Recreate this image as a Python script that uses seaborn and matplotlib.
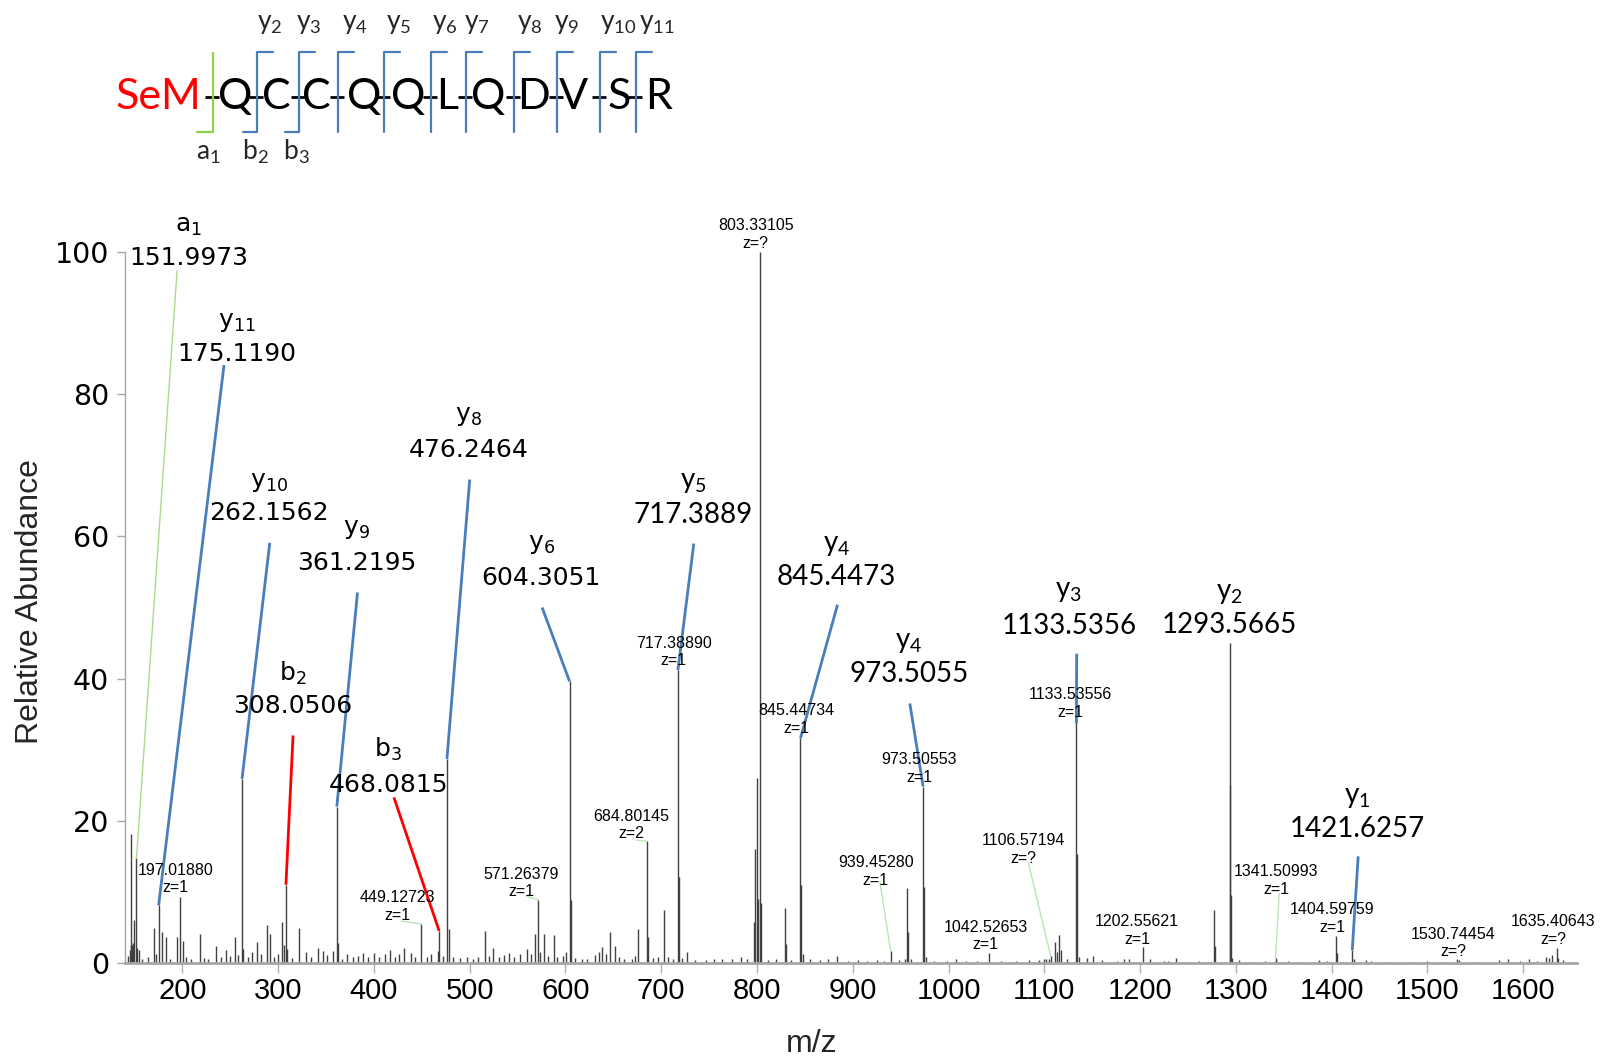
import numpy as np
import matplotlib.pyplot as plt
import seaborn as sns
from matplotlib import font_manager
from matplotlib.lines import Line2D

# ---- spectrum data (m/z, relative abundance) ----
# labelled / main peaks
major_mz = [146.6, 152.0, 175.1, 197.0, 262.2, 308.05, 361.2, 449.1, 468.1, 476.2,
            571.3, 604.3, 684.8, 717.4, 800.0, 803.3, 845.4, 939.5, 956.2, 973.5,
            1042.5, 1106.6, 1133.5, 1202.6, 1277.0, 1293.6, 1341.5, 1404.6, 1421.6,
            1530.7, 1635.4]
major_int = [18.2, 14.7, 8.1, 9.3, 25.9, 11.0, 22.0, 5.5, 4.5, 28.7,
             8.9, 39.6, 17.1, 41.2, 26.0, 100.0, 31.6, 1.7, 10.5, 24.8,
             1.4, 1.0, 43.5, 2.2, 7.5, 45.0, 0.7, 3.8, 1.8,
             0.5, 2.1]

# isotope / shoulder peaks next to the main ones
iso_mz = [147.6, 148.3, 149.7, 152.8, 263.3, 305.7, 362.4, 478.7, 605.5, 685.8,
          718.5, 796.7, 798.4, 801.2, 804.3, 829.8, 846.3, 957.2, 974.5, 1134.2,
          1278.4, 1294.0, 1294.6, 1406.0]
iso_int = [2.5, 2.8, 6.1, 2.1, 2.0, 2.6, 2.8, 4.8, 8.9, 3.7,
           12.1, 5.7, 16.1, 9.0, 8.4, 2.7, 11.0, 4.4, 10.7, 15.4,
           2.4, 25.0, 9.6, 1.4]

# small background peaks
minor_mz = [143.5, 144.9, 145.8, 154.4, 158.0, 163.5, 170.4, 172.0, 178.3, 183.2,
            187.0, 194.7, 200.2, 203.5, 209.0, 218.1, 222.0, 226.5, 235.2, 240.0,
            245.3, 250.0, 255.0, 258.5, 268.0, 272.5, 277.9, 282.0, 288.4, 291.1,
            296.0, 300.0, 304.3, 309.2, 314.0, 321.3, 328.6, 334.0, 341.1, 346.4,
            351.0, 357.5, 367.0, 371.8, 378.0, 383.0, 388.8, 394.0, 400.3, 405.0,
            411.0, 417.0, 421.5, 426.0, 431.6, 438.9, 443.0, 455.0, 460.0, 466.5,
            472.0, 483.0, 490.0, 497.0, 503.0, 509.0, 515.6, 520.0, 524.0, 531.0,
            536.0, 540.7, 546.0, 552.0, 559.8, 564.0, 567.8, 573.0, 577.5, 582.0,
            587.6, 591.0, 597.0, 600.5, 610.0, 617.0, 622.0, 630.7, 634.5, 638.3,
            642.0, 646.3, 651.6, 656.0, 661.0, 669.0, 673.0, 676.0, 691.0, 697.0,
            702.8, 707.0, 712.0, 722.0, 727.4, 735.0, 746.6, 755.0, 763.0, 774.0,
            782.8, 790.0, 812.0, 820.0, 829.0, 835.0, 848.0, 855.0, 866.0, 874.0,
            883.9, 895.0, 905.0, 915.0, 925.0, 933.0, 948.0, 955.0, 961.0, 976.0,
            985.0, 998.0, 1007.8, 1018.0, 1030.0, 1055.0, 1070.0, 1084.0, 1095.0, 1099.3,
            1102.0, 1104.5, 1111.1, 1113.0, 1115.5, 1117.0, 1124.0, 1136.0, 1144.3, 1151.3,
            1160.0, 1176.0, 1183.0, 1188.0, 1210.0, 1224.8, 1229.0, 1237.6, 1250.0, 1262.0,
            1296.4, 1303.0, 1315.0, 1330.0, 1342.0, 1355.0, 1370.0, 1387.0, 1395.0, 1423.0,
            1436.4, 1441.0, 1460.0, 1480.0, 1500.0, 1515.0, 1533.0, 1550.0, 1575.0, 1584.0,
            1597.0, 1606.6, 1615.0, 1624.0, 1627.5, 1630.0, 1636.3, 1641.5, 1650.0]
minor_int = [1.0, 1.8, 2.6, 1.8, 0.6, 0.8, 4.9, 1.2, 4.4, 3.6,
             0.5, 3.7, 3.1, 0.9, 0.5, 4.1, 0.7, 0.5, 2.4, 0.8,
             1.8, 1.0, 3.6, 1.1, 0.9, 1.5, 3.0, 1.2, 5.3, 4.1,
             0.8, 1.3, 5.7, 2.0, 0.7, 4.9, 1.6, 0.9, 2.1, 1.7,
             1.1, 1.7, 0.6, 1.2, 0.8, 1.0, 1.4, 0.9, 1.4, 0.8,
             1.2, 1.8, 0.9, 1.3, 2.1, 1.4, 0.8, 0.9, 1.2, 1.7,
             1.0, 0.9, 0.7, 0.9, 0.6, 0.8, 4.5, 1.0, 2.1, 0.8,
             1.1, 1.4, 0.9, 1.2, 1.9, 1.3, 4.1, 1.5, 4.1, 1.0,
             4.0, 0.8, 1.0, 1.5, 0.7, 0.5, 0.6, 1.1, 1.6, 2.3,
             1.2, 4.4, 2.4, 0.8, 0.6, 0.6, 1.0, 4.8, 0.7, 0.9,
             7.5, 0.8, 0.6, 0.7, 1.5, 0.4, 0.4, 0.5, 0.6, 0.5,
             0.9, 0.5, 0.4, 0.5, 7.7, 0.4, 1.2, 0.6, 0.4, 0.5,
             1.0, 0.3, 0.4, 0.3, 0.4, 0.3, 0.4, 0.6, 0.5, 0.8,
             0.3, 0.3, 0.5, 0.3, 0.3, 0.3, 0.3, 0.4, 0.4, 0.5,
             0.5, 0.6, 3.0, 1.5, 3.9, 1.8, 0.6, 0.8, 0.7, 1.0,
             0.4, 0.3, 0.6, 0.5, 0.5, 0.3, 0.3, 0.7, 0.2, 0.3,
             0.7, 0.4, 0.2, 0.3, 0.4, 0.3, 0.2, 0.4, 0.3, 0.6,
             0.4, 0.3, 0.2, 0.2, 0.3, 0.2, 0.4, 0.2, 0.4, 0.5,
             0.3, 0.5, 0.3, 0.8, 0.7, 1.1, 0.7, 0.4, 0.2]

# ---- fragment ion annotations ----
ion_names = ['a_1', 'y_{11}', 'y_{10}', 'y_9', 'b_2', 'y_8', 'b_3', 'y_6',
             'y_5', 'y_4', 'y_4', 'y_3', 'y_2', 'y_1']
ion_masses = ['151.9973', '175.1190', '262.1562', '361.2195', '308.0506', '476.2464',
              '468.0815', '604.3051', '717.3889', '845.4473', '973.5055', '1133.5356',
              '1293.5665', '1421.6257']
ion_peaks = [152.0, 175.1, 262.2, 361.2, 308.05, 476.2, 468.1, 604.3,
             717.4, 845.4, 973.5, 1133.5, 1293.6, 1421.6]

# small peak labels
small_mass = ['197.01880', '449.12723', '571.26379', '684.80145', '717.38890', '803.33105',
              '845.44734', '939.45280', '973.50553', '1042.52653', '1106.57194',
              '1133.53556', '1202.55621', '1341.50993', '1404.59759', '1530.74454',
              '1635.40643']
small_charge = ['z=1', 'z=1', 'z=1', 'z=2', 'z=1', 'z=?', 'z=1', 'z=1', 'z=1', 'z=1',
                'z=?', 'z=1', 'z=1', 'z=1', 'z=1', 'z=?', 'z=?']

# peptide sequence
residues = ['SeM', 'Q', 'C', 'C', 'Q', 'Q', 'L', 'Q', 'D', 'V', 'S', 'R']
y_frag = ['y_2', 'y_3', 'y_4', 'y_5', 'y_6', 'y_7', 'y_8', 'y_9', 'y_{10}', 'y_{11}']
nterm_frag = ['a_1', 'b_2', 'b_3']

# ---- layout / style (positions of labels, not data) ----
ion_type_color = {'a': '#a9dc8c', 'b': '#ff0000', 'y': '#4a7ebb'}
ion_lx = [206.1, 256.7, 290.3, 381.7, 315.5, 498.7, 415.1, 574.5,
          733.3, 883.0, 958.7, 1125.6, 1293.1, 1427.1]
ion_ly = [103.7, 90.2, 67.7, 61.0, 40.8, 76.9, 30.1, 58.9,
          67.7, 58.8, 45.2, 52.3, 52.0, 23.4]
ion_my = [99.1, 85.7, 63.3, 56.3, 36.2, 72.1, 25.0, 54.1,
          63.0, 54.3, 40.7, 47.4, 47.5, 18.9]
lead_x0 = [194.4, 243.4, 291.2, 382.8, 315.5, 500.0, 420.8, 575.6,
           734.0, 884.1, 959.6, 1133.9, None, 1427.8]
lead_y0 = [97.4, 84.1, 59.1, 52.1, 32.0, 68.0, 23.3, 50.0,
           59.0, 50.4, 36.5, 43.5, None, 15.0]
lead_y1 = [None] * 11 + [33.7, None, None]
ion_big_font = ['dv'] * 8 + ['lato'] * 6

small_x = [193.0, 424.5, 554.0, 669.0, 713.1, 798.8, 841.3, 924.1, 969.3, 1039.0,
           1077.9, 1127.4, 1197.0, 1341.9, 1401.0, 1527.0, 1631.4]
small_y = [13.0, 9.2, 12.5, 20.6, 45.0, 103.7, 35.5, 14.1, 28.6, 5.0,
           17.2, 37.7, 5.8, 12.8, 7.5, 4.0, 5.8]
small_lx = [None, 428.7, 559.3, 674.1, None, None, None, 928.4, None, None,
            1083.2, None, None, 1345.3, None, None, None]
small_ly = [None, 5.9, 9.4, 17.3, None, None, None, 11.4, None, None,
            14.2, None, None, 9.8, None, None, None]

W, H = 1601, 1058
res_px = [158, 235, 276.7, 316, 364, 408.3, 446.7, 488.3, 533.3, 573.3, 619, 658.3]
cut_px = [213.3, 256.7, 299.3, 338.3, 384.3, 431, 466, 514.3, 557.3, 600, 636]
y_frag_px = [270, 308.3, 355, 398.3, 445, 476.7, 530, 566.7, 618.3, 656.7]
nterm_px = [208.3, 255, 296.7]

sns.set_theme(style='white')
plt.rcParams['font.family'] = ['DejaVu Sans']

fnames = {f.name for f in font_manager.fontManager.ttflist}
if 'Liberation Sans Narrow' in fnames:
    narrow = 'Liberation Sans Narrow'
    xtick_size, axlab_size = 23, 27
else:
    narrow = 'Liberation Sans'
    xtick_size, axlab_size = 21, 23


def fx(px):
    return px / W


def fy(py):
    return 1 - py / H


fig = plt.figure(figsize=(W / 100, H / 100), dpi=100)
ax = fig.add_axes([fx(125), fy(963), fx(1576.7) - fx(125), fy(252) - fy(963)])

all_mz = major_mz + iso_mz + minor_mz
all_int = major_int + iso_int + minor_int
ax.vlines(all_mz, 0, all_int, colors='#404040', lw=1.0, zorder=2)

ax.set_xlim(140, 1656)
ax.set_ylim(0, 100)
ax.set_xticks(np.arange(200, 1601, 100))
ax.set_yticks(np.arange(0, 101, 20))
sns.despine(ax=ax)
ax.spines['left'].set_color('#a6a6a6')
ax.spines['left'].set_linewidth(1.0)
ax.spines['bottom'].set_color('#a6a6a6')
ax.spines['bottom'].set_linewidth(2.0)
ax.tick_params(axis='x', bottom=True, length=7, width=1, color='#b0b0b0',
               pad=3, labelsize=xtick_size, labelcolor='black')
ax.tick_params(axis='y', left=True, length=5.5, width=1, color='#a6a6a6',
               pad=6, labelsize=20.5, labelcolor='black')
for lab in ax.get_xticklabels():
    lab.set_fontfamily(narrow)
ax.grid(False)

fig.text(fx(30), fy(602), 'Relative Abundance', rotation=90, ha='center', va='center',
         fontsize=axlab_size, family=narrow)
fig.text(fx(812), fy(1044), 'm/z', ha='center', va='center', fontsize=axlab_size,
         family=narrow)


def major_top(mz):
    i = int(np.argmin(np.abs(np.array(major_mz) - mz)))
    return major_mz[i], major_int[i]


# big fragment labels with leader lines
for k, name in enumerate(ion_names):
    col = ion_type_color[name[0]]
    if ion_big_font[k] == 'dv':
        fam, size = 'DejaVu Sans', 18
    else:
        fam, size = 'Lato', 20
    ax.text(ion_lx[k], ion_ly[k], r'$\mathregular{%s}$' % name, ha='center', va='center',
            fontsize=size, family=fam, color='black', zorder=5)
    ax.text(ion_lx[k], ion_my[k], ion_masses[k], ha='center', va='center',
            fontsize=size, family=fam, color='black', zorder=5)
    if lead_x0[k] is not None:
        px, py = major_top(ion_peaks[k])
        if lead_y1[k] is not None:
            py = lead_y1[k]
        lw = 1.0 if name[0] == 'a' else 2.0
        ax.plot([lead_x0[k], px], [lead_y0[k], py], color=col, lw=lw,
                solid_capstyle='butt', zorder=4)

# small peak labels
for k, m in enumerate(small_mass):
    ax.text(small_x[k], small_y[k], m, ha='center', va='center', fontsize=11.5,
            family='Liberation Sans', color='black', zorder=5)
    ax.text(small_x[k], small_y[k] - 2.45, small_charge[k], ha='center', va='center',
            fontsize=11.5, family='Liberation Sans', color='black', zorder=5)
    if small_lx[k] is not None:
        px, py = major_top(float(m))
        ax.plot([small_lx[k], px], [small_ly[k], py], color='#b8e6b8', lw=1.0, zorder=3)

# ---- peptide sequence diagram ----
for k, r in enumerate(residues):
    fig.text(fx(res_px[k]), fy(109), r, ha='center', va='baseline', fontsize=31,
             family='Lato', color='#ff0000' if r == 'SeM' else 'black')
for c in cut_px:
    fig.add_artist(Line2D([fx(c - 8), fx(c + 6)], [fy(96.5), fy(96.5)], color='black',
                          lw=2.0, solid_capstyle='butt'))

blue, green = '#4a7ebb', '#92d050'
# a1 cut (green, bottom hook)
fig.add_artist(Line2D([fx(cut_px[0]), fx(cut_px[0]), fx(cut_px[0] - 16.5)],
                      [fy(53.3), fy(131.7), fy(131.7)], color=green, lw=1.6))
for k, c in enumerate(cut_px[1:]):
    if k < 2:
        xs = [fx(c + 16), fx(c), fx(c), fx(c - 14)]
        ys = [fy(51.7), fy(51.7), fy(132.3), fy(132.3)]
    else:
        xs = [fx(c + 16), fx(c), fx(c)]
        ys = [fy(51.7), fy(51.7), fy(132.3)]
    fig.add_artist(Line2D(xs, ys, color=blue, lw=1.6))

for k, lab in enumerate(y_frag):
    fig.text(fx(y_frag_px[k]), fy(29), r'$\mathregular{%s}$' % lab, ha='center',
             va='baseline', fontsize=19, family='Lato')
for k, lab in enumerate(nterm_frag):
    fig.text(fx(nterm_px[k]), fy(160), r'$\mathregular{%s}$' % lab, ha='center',
             va='baseline', fontsize=19, family='Lato')

fig.savefig('out.png', dpi=100)
